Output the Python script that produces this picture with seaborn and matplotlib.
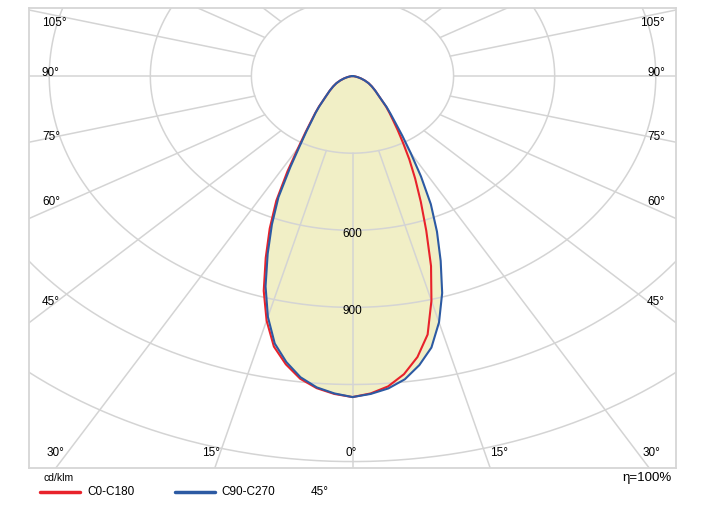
import numpy as np
import pandas as pd
import matplotlib
matplotlib.use("Agg")
import matplotlib.pyplot as plt
from matplotlib.lines import Line2D
import seaborn as sns

# gamma angles (deg) and intensities (cd/klm)
gamma = [0, 2.5, 5, 7.5, 10, 12.5, 15, 17.5, 20, 22.5, 25, 27.5, 30, 32.5, 35, 37.5, 40,
         45, 50, 55, 60, 65, 70, 75, 80, 85, 90]
c180 = [1249, 1238, 1219, 1188, 1139, 1078, 985, 876, 753, 642, 535, 418, 322, 260, 214, 182, 155,
        112, 88, 70, 55, 40, 27, 16, 8, 3, 0]
c0 = [1249, 1236, 1212, 1170, 1110, 1030, 905, 775, 640, 530, 440, 365, 300, 250, 210, 180, 155,
      112, 88, 70, 55, 40, 27, 16, 8, 3, 0]
c270 = [1249, 1236, 1216, 1182, 1130, 1066, 970, 858, 736, 625, 520, 400, 312, 254, 210, 180, 153,
        112, 88, 70, 55, 40, 27, 16, 8, 3, 0]
c90 = [1249, 1238, 1220, 1190, 1142, 1082, 992, 885, 765, 655, 550, 440, 345, 275, 222, 186, 158,
       112, 88, 70, 55, 40, 27, 16, 8, 3, 0]

rings = [300, 600, 900, 1200, 1500]
ring_labels = {600: "600", 900: "900"}
spoke_step = 15
side_labels = ["105°", "90°", "75°", "60°", "45°"]
bottom_labels = ["30°", "15°", "0°", "15°", "30°"]
planes = ["C0-C180", "C90-C270"]
colors = {"C0-C180": "#e8222b", "C90-C270": "#2c5aa3"}


def plane_xy(left, right):
    g = np.radians(gamma)
    L = np.array(left, float)
    R = np.array(right, float)
    x = np.concatenate([-(L * np.sin(g))[::-1], R * np.sin(g)])
    y = np.concatenate([-(L * np.cos(g))[::-1], -R * np.cos(g)])
    return x, y


rows = []
for name, (l, r) in zip(planes, [(c180, c0), (c270, c90)]):
    x, y = plane_xy(l, r)
    rows.append(pd.DataFrame({"x": x, "y": y, "plane": name, "i": np.arange(len(x))}))
curves = pd.concat(rows, ignore_index=True)

sns.set_style("white")
plt.rcParams['font.family'] = ['Liberation Sans', 'DejaVu Sans']
plt.rcParams['text.color'] = 'black'

fig = plt.figure(figsize=(7.02, 5.11), dpi=100)
ax = fig.add_axes([29 / 702, 1 - 468 / 511, 647 / 702, 460 / 511])
ax.set_xlim(-960, 960)
ax.set_ylim(-1525, 265)

# filled distribution
for name in planes:
    d = curves[curves.plane == name]
    ax.fill(d.x, d.y, color="#f1efc6", lw=0, zorder=1)

# grid: rings and spokes
grid_c = "#d4d4d4"
t = np.linspace(0, 2 * np.pi, 721)
for r in rings:
    ax.plot(r * np.sin(t), r * np.cos(t), color=grid_c, lw=1.1, zorder=2)
for a in range(0, 360, spoke_step):
    ar = np.radians(a)
    ax.plot([rings[0] * np.sin(ar), 4000 * np.sin(ar)],
            [-rings[0] * np.cos(ar), -4000 * np.cos(ar)], color=grid_c, lw=1.1, zorder=2)

sns.lineplot(data=curves, x="x", y="y", hue="plane", units="plane", estimator=None, sort=False,
             palette=colors, lw=1.5, legend=False, ax=ax, zorder=3)

for r, lab in ring_labels.items():
    ax.text(0, -r - 15, lab, ha="center", va="center", fontsize=8.5, zorder=4)

ax.set_xlabel("")
ax.set_ylabel("")
ax.set_xticks([])
ax.set_yticks([])
for s in ax.spines.values():
    s.set_color("#d6d6d6")
    s.set_linewidth(1.3)

# angle labels on the frame
side_y = [23, 73, 137, 202, 302]
for lab, py in zip(side_labels, side_y):
    fy = (468 - py) / 460
    ax.text(0.02, fy, lab, transform=ax.transAxes, ha="left", va="center", fontsize=8.5)
    ax.text(0.983, fy, lab, transform=ax.transAxes, ha="right", va="center", fontsize=8.5)
bottom_x = [55, 211, 351, 499, 651]
for lab, px in zip(bottom_labels, bottom_x):
    ax.text((px - 29) / 647, 15 / 460, lab, transform=ax.transAxes, ha="center", va="center", fontsize=8.5)

# footer
fig.text(44 / 702, 1 - 478 / 511, "cd/klm", fontsize=7.5, va="center", ha="left")
fig.text(672 / 702, 1 - 478 / 511, "η=100%", fontsize=9.5, va="center", ha="right")
yl = 1 - 492 / 511
fig.add_artist(Line2D([40 / 702, 80 / 702], [yl, yl], color=colors["C0-C180"], lw=2.5))
fig.text(87 / 702, yl, "C0-C180", fontsize=8.5, va="center", ha="left")
fig.add_artist(Line2D([175 / 702, 215 / 702], [yl, yl], color=colors["C90-C270"], lw=2.5))
fig.text(221 / 702, yl, "C90-C270", fontsize=8.5, va="center", ha="left")
fig.text(311 / 702, yl, "45°", fontsize=8.5, va="center", ha="left")

fig.savefig("out.png", dpi=100, facecolor="white")
